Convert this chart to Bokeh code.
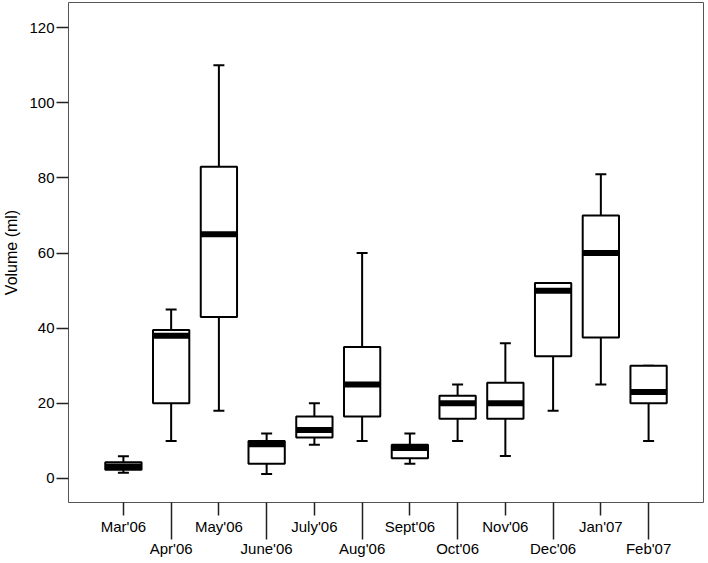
from bokeh.plotting import figure
from bokeh.models import Range1d, LinearAxis, FixedTicker, ColumnDataSource
from bokeh.embed import file_html
from bokeh.resources import INLINE

months = ["Mar'06", "Apr'06", "May'06", "June'06", "July'06", "Aug'06",
          "Sept'06", "Oct'06", "Nov'06", "Dec'06", "Jan'07", "Feb'07"]
whisker_low = [1.5, 10, 18, 1.2, 9, 10, 3.9, 10, 6, 18, 25, 10]
q1 = [2.3, 20, 43, 3.9, 10.9, 16.5, 5.4, 15.9, 15.9, 32.5, 37.5, 20]
median = [3.2, 38, 65, 9.1, 12.9, 25, 8.1, 20, 20, 50, 60, 23]
q3 = [4.3, 39.5, 83, 10, 16.5, 35, 9, 22, 25.5, 52, 70, 30]
whisker_high = [5.9, 45, 110, 12, 20, 60, 12, 25, 36, 52, 81, 30]
y_ticks = [0, 20, 40, 60, 80, 100, 120]

pos = list(range(1, len(months) + 1))
box_w = 0.76
cap_w = 0.23

src = ColumnDataSource(dict(
    x=pos,
    left=[x - box_w / 2 for x in pos],
    right=[x + box_w / 2 for x in pos],
    cl=[x - cap_w / 2 for x in pos],
    cr=[x + cap_w / 2 for x in pos],
    lo=whisker_low, q1=q1, med=median, q3=q3, hi=whisker_high,
))

FONT = "Liberation Sans"

p = figure(width=706, height=559, x_range=Range1d(-0.15, 13.15),
           y_range=Range1d(-6.4, 126.7), output_backend="svg",
           toolbar_location=None, x_axis_type=None,
           min_border_top=2, min_border_right=3, min_border_left=0)
p.grid.visible = False
p.outline_line_color = "#555555"
p.outline_line_width = 1
p.background_fill_color = "white"
p.border_fill_color = "white"

# whiskers
p.segment(x0="x", y0="q3", x1="x", y1="hi", source=src, line_color="black", line_width=2)
p.segment(x0="x", y0="lo", x1="x", y1="q1", source=src, line_color="black", line_width=2)
p.segment(x0="cl", y0="hi", x1="cr", y1="hi", source=src, line_color="black", line_width=2)
p.segment(x0="cl", y0="lo", x1="cr", y1="lo", source=src, line_color="black", line_width=2)
# boxes
p.quad(left="left", right="right", bottom="q1", top="q3", source=src,
       fill_color="white", line_color="black", line_width=2)
# medians
p.segment(x0="left", y0="med", x1="right", y1="med", source=src,
          line_color="black", line_width=6, line_cap="butt")

# y axis
p.yaxis.ticker = FixedTicker(ticks=y_ticks)
p.yaxis.axis_label = "Volume (ml)"
p.yaxis.axis_label_text_font = FONT
p.yaxis.axis_label_text_font_size = "16px"
p.yaxis.axis_label_text_font_style = "normal"
p.yaxis.axis_label_text_color = "black"
p.yaxis.axis_label_standoff = 6
p.yaxis.major_label_text_font = FONT
p.yaxis.major_label_text_font_size = "15px"
p.yaxis.major_label_text_color = "black"
p.yaxis.major_label_standoff = 2
p.yaxis.major_tick_out = 12
p.yaxis.major_tick_in = 0
p.yaxis.minor_tick_line_color = None
p.yaxis.major_tick_line_color = "#222222"
p.yaxis.major_tick_line_width = 1.5
p.yaxis.axis_line_color = None

odd_ticks = [pos[i] for i in range(0, len(pos), 2)]
even_ticks = [pos[i] for i in range(1, len(pos), 2)]

ax1 = LinearAxis(ticker=FixedTicker(ticks=odd_ticks),
                 major_label_overrides={pos[i]: months[i] for i in range(0, len(pos), 2)})
ax2 = LinearAxis(ticker=FixedTicker(ticks=even_ticks),
                 major_label_overrides={pos[i]: months[i] for i in range(1, len(pos), 2)})
for ax in (ax1, ax2):
    ax.major_label_text_font = FONT
    ax.major_label_text_font_size = "15px"
    ax.major_label_text_color = "black"
    ax.minor_tick_line_color = None
    ax.axis_line_color = None
    ax.major_tick_line_color = "#222222"
    ax.major_tick_line_width = 1.5
ax1.major_tick_out = 13
ax1.major_tick_in = 0
ax1.major_label_standoff = 2
ax2.major_tick_in = 35
ax2.major_tick_out = 2
ax2.major_label_standoff = 0
p.add_layout(ax1, "below")
p.add_layout(ax2, "below")

open("out.html", "w").write(file_html(p, INLINE))
